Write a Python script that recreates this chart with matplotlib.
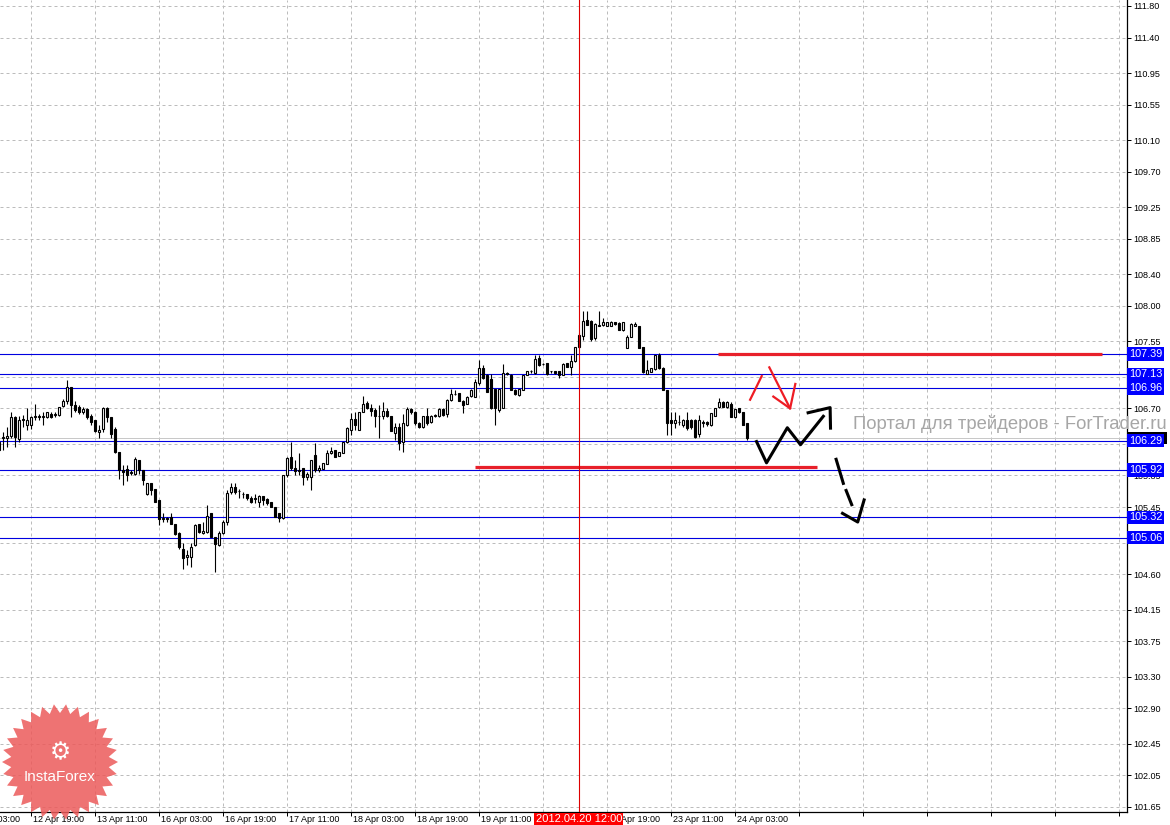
import numpy as np
import matplotlib.pyplot as plt
from matplotlib.patches import Polygon, Rectangle
from matplotlib.transforms import IdentityTransform, blended_transform_factory

plt.rcParams['font.family'] = ['Liberation Sans', 'DejaVu Sans']

# H1 candles, USDJPY-like (first bar is cut by the left edge)
opens = [106.28, 106.33, 106.32, 106.35, 106.59, 106.31, 106.57, 106.49, 106.49, 106.59,
         106.60, 106.59, 106.59, 106.63, 106.62, 106.62, 106.73, 106.79, 106.97, 106.74,
         106.72, 106.65, 106.69, 106.60, 106.55, 106.40, 106.44, 106.70, 106.59, 106.44,
         106.15, 105.92, 105.93, 105.88, 105.87, 106.04, 105.92, 105.61, 105.75, 105.68,
         105.54, 105.30, 105.31, 105.32, 105.24, 105.12, 104.92, 104.82, 104.82, 104.97,
         105.23, 105.12, 105.13, 105.37, 105.07, 104.97, 105.12, 105.26, 105.64, 105.71,
         105.65, 105.61, 105.61, 105.57, 105.55, 105.52, 105.59, 105.55, 105.51, 105.45,
         105.37, 105.31, 105.86, 106.09, 105.95, 105.92, 105.95, 105.83, 105.83, 106.11,
         105.92, 105.93, 106.00, 106.13, 106.17, 106.10, 106.14, 106.27, 106.43, 106.56,
         106.43, 106.66, 106.77, 106.70, 106.68, 106.60, 106.60, 106.67, 106.60, 106.39,
         106.46, 106.28, 106.49, 106.69, 106.66, 106.52, 106.46, 106.60, 106.53, 106.60,
         106.60, 106.69, 106.63, 106.81, 106.88, 106.89, 106.79, 106.76, 106.86, 106.85,
         107.02, 107.21, 107.12, 107.07, 106.95, 106.68, 106.70, 107.15, 107.12, 106.93,
         106.87, 106.93, 107.12, 107.17, 107.15, 107.34, 107.26, 107.27, 107.17, 107.17,
         107.17, 107.12, 107.27, 107.23, 107.30, 107.48, 107.62, 107.82, 107.81, 107.59,
         107.75, 107.76, 107.75, 107.75, 107.79, 107.78, 107.69, 107.47, 107.61, 107.75,
         107.74, 107.48, 107.14, 107.165, 107.20, 107.38, 107.21, 106.93, 106.55, 106.51,
         106.53, 106.49, 106.55, 106.55, 106.55, 106.38, 106.52, 106.53, 106.49, 106.61,
         106.72, 106.785, 106.72, 106.75, 106.595, 106.70, 106.65, 106.51]
highs = [106.30, 106.40, 106.47, 106.655, 106.61, 106.61, 106.62, 106.70, 106.61, 106.76,
         106.63, 106.655, 106.66, 106.65, 106.655, 106.72, 106.82, 107.06, 106.97, 106.80,
         106.74, 106.72, 106.70, 106.63, 106.55, 106.49, 106.72, 106.72, 106.59, 106.47,
         106.15, 105.98, 105.98, 105.92, 106.08, 106.04, 105.92, 105.76, 105.75, 105.68,
         105.54, 105.37, 105.32, 105.37, 105.24, 105.13, 104.99, 104.90, 104.99, 105.24,
         105.24, 105.26, 105.48, 105.37, 105.07, 105.15, 105.29, 105.67, 105.75, 105.75,
         105.68, 105.64, 105.61, 105.59, 105.61, 105.60, 105.59, 105.56, 105.51, 105.45,
         105.38, 105.86, 106.09, 106.28, 106.05, 106.14, 105.95, 105.90, 106.05, 106.26,
         105.98, 106.01, 106.17, 106.21, 106.17, 106.15, 106.28, 106.46, 106.64, 106.65,
         106.65, 106.86, 106.79, 106.76, 106.70, 106.74, 106.78, 106.70, 106.61, 106.51,
         106.51, 106.63, 106.72, 106.71, 106.67, 106.53, 106.61, 106.70, 106.62, 106.63,
         106.70, 106.70, 106.82, 106.95, 106.93, 106.90, 106.81, 106.86, 106.94, 107.07,
         107.31, 107.25, 107.14, 107.14, 106.95, 106.95, 107.26, 107.16, 107.14, 106.94,
         106.94, 107.12, 107.17, 107.19, 107.38, 107.38, 107.27, 107.27, 107.18, 107.17,
         107.17, 107.27, 107.28, 107.38, 107.48, 107.65, 107.93, 107.93, 107.82, 107.78,
         107.93, 107.85, 107.80, 107.81, 107.80, 107.79, 107.80, 107.63, 107.78, 107.79,
         107.75, 107.48, 107.31, 107.21, 107.38, 107.40, 107.22, 106.93, 106.66, 106.66,
         106.62, 106.57, 106.66, 106.57, 106.57, 106.62, 106.55, 106.54, 106.64, 106.70,
         106.83, 106.80, 106.79, 106.78, 106.69, 106.71, 106.65, 106.51]
lows = [106.16, 106.17, 106.21, 106.32, 106.21, 106.28, 106.47, 106.42, 106.44, 106.55,
        106.55, 106.49, 106.58, 106.58, 106.59, 106.61, 106.72, 106.76, 106.59, 106.66,
        106.63, 106.63, 106.57, 106.49, 106.40, 106.32, 106.40, 106.53, 106.32, 106.13,
        105.81, 105.73, 105.78, 105.85, 105.86, 105.87, 105.73, 105.60, 105.60, 105.51,
        105.22, 105.26, 105.26, 105.24, 105.10, 104.92, 104.66, 104.71, 104.69, 104.95,
        105.12, 105.11, 105.12, 105.07, 104.63, 104.96, 105.11, 105.22, 105.62, 105.62,
        105.56, 105.56, 105.54, 105.50, 105.50, 105.45, 105.48, 105.48, 105.45, 105.32,
        105.26, 105.30, 105.83, 105.92, 105.86, 105.86, 105.73, 105.79, 105.66, 105.90,
        105.90, 105.93, 105.99, 106.12, 106.08, 106.10, 106.13, 106.26, 106.36, 106.43,
        106.43, 106.65, 106.69, 106.60, 106.47, 106.32, 106.56, 106.59, 106.41, 106.30,
        106.17, 106.15, 106.48, 106.63, 106.49, 106.45, 106.45, 106.49, 106.52, 106.59,
        106.59, 106.61, 106.59, 106.79, 106.87, 106.79, 106.64, 106.75, 106.85, 106.84,
        107.00, 107.07, 106.91, 106.69, 106.49, 106.66, 106.70, 107.12, 106.93, 106.87,
        106.86, 106.93, 107.12, 107.15, 107.14, 107.24, 107.25, 107.12, 107.15, 107.14,
        107.08, 107.12, 107.23, 107.12, 107.29, 107.47, 107.57, 107.76, 107.55, 107.57,
        107.74, 107.74, 107.74, 107.74, 107.76, 107.69, 107.68, 107.46, 107.60, 107.74,
        107.47, 107.15, 107.14, 107.16, 107.19, 107.20, 106.93, 106.36, 106.36, 106.45,
        106.49, 106.47, 106.43, 106.44, 106.32, 106.34, 106.47, 106.48, 106.48, 106.60,
        106.70, 106.72, 106.71, 106.59, 106.58, 106.64, 106.49, 106.30]
closes = [106.17, 106.34, 106.35, 106.59, 106.34, 106.55, 106.55, 106.55, 106.59, 106.60,
          106.59, 106.60, 106.65, 106.59, 106.63, 106.72, 106.79, 106.97, 106.74, 106.685,
          106.65, 106.69, 106.59, 106.53, 106.41, 106.43, 106.71, 106.59, 106.38, 106.15,
          105.92, 105.89, 105.85, 105.89, 106.06, 105.92, 105.79, 105.76, 105.66, 105.51,
          105.30, 105.31, 105.30, 105.24, 105.11, 104.94, 104.80, 104.84, 104.94, 105.22,
          105.13, 105.14, 105.34, 105.07, 104.98, 105.12, 105.26, 105.63, 105.70, 105.64,
          105.65, 105.62, 105.56, 105.51, 105.57, 105.59, 105.54, 105.50, 105.45, 105.33,
          105.31, 105.86, 106.07, 105.94, 105.91, 105.91, 105.83, 105.87, 106.05, 105.92,
          105.95, 106.01, 106.13, 106.16, 106.08, 106.15, 106.28, 106.45, 106.56, 106.49,
          106.65, 106.76, 106.70, 106.67, 106.60, 106.60, 106.67, 106.60, 106.41, 106.46,
          106.26, 106.51, 106.69, 106.65, 106.52, 106.46, 106.60, 106.52, 106.60, 106.62,
          106.69, 106.62, 106.81, 106.88, 106.88, 106.79, 106.74, 106.85, 106.93, 107.04,
          107.21, 107.08, 106.91, 106.70, 106.70, 106.95, 107.15, 107.13, 106.93, 106.88,
          106.94, 107.12, 107.17, 107.17, 107.32, 107.25, 107.26, 107.14, 107.17, 107.15,
          107.12, 107.26, 107.23, 107.30, 107.48, 107.63, 107.81, 107.76, 107.58, 107.77,
          107.76, 107.80, 107.79, 107.80, 107.765, 107.69, 107.79, 107.61, 107.765, 107.765,
          107.47, 107.165, 107.19, 107.21, 107.38, 107.21, 106.93, 106.51, 106.51, 106.55,
          106.53, 106.55, 106.45, 106.46, 106.34, 106.55, 106.52, 106.50, 106.64, 106.70,
          106.785, 106.72, 106.785, 106.59, 106.69, 106.65, 106.49, 106.32]

# horizontal levels (blue) with their price tags
blue_levels = [107.39, 107.13, 106.96, 106.29, 105.92, 105.32, 105.06]
blue_tags = ['107.39', '107.13', '106.96', '106.29', '105.92', '105.32', '105.06']
bid_price = 106.32

# red drawn levels: price, start bar, end bar
red_levels = [(107.39, 178.7, 274.7), (105.96, 117.9, 203.4)]

# hand-drawn forecast strokes (bar, price)
red_strokes = [([186.7, 189.6], [106.81, 107.11]),
               ([191.5, 196.7], [107.22, 106.70]),
               ([192.5, 196.7, 198.0], [106.85, 106.70, 107.01])]
black_strokes = [([188.3, 190.8, 196.0, 199.3, 205.0], [106.28, 106.01, 106.455, 106.24, 106.60]),
                 ([201.2, 206.7, 206.8], [106.645, 106.71, 106.45]),
                 ([208.2, 210.0], [106.055, 105.75]),
                 ([210.7, 212.1], [105.66, 105.48]),
                 ([209.8, 213.6, 215.2], [105.37, 105.26, 105.54])]

price_ticks = [111.80, 111.40, 110.95, 110.55, 110.10, 109.70, 109.25, 108.85, 108.40,
               108.00, 107.55, 107.10, 106.70, 106.25, 105.85, 105.45, 105.00, 104.60,
               104.15, 103.75, 103.30, 102.90, 102.45, 102.05, 101.65]
# labels that sit fully under a level tag are not visible on the chart
hidden_ticks = [107.10, 106.25, 105.00]
time_ticks = [-9, 7, 23, 39, 55, 71, 87, 103, 119, 135, 151, 167, 183,
              199, 215, 231, 247, 263, 279]
time_labels = ['12 Apr 03:00', '12 Apr 19:00', '13 Apr 11:00', '16 Apr 03:00', '16 Apr 19:00',
               '17 Apr 11:00', '18 Apr 03:00', '18 Apr 19:00', '19 Apr 11:00', '20 Apr 03:00',
               '20 Apr 19:00', '23 Apr 11:00', '24 Apr 03:00']
cursor_bar = 143.9
cursor_label = '2012.04.20 12:00'

bars = np.arange(-1, len(opens) - 1)

fig = plt.figure(figsize=(11.7, 8.25), dpi=100)
ax = fig.add_axes([0, 13 / 825, 1127 / 1170, 812 / 825])

for s in ['left', 'top']:
    ax.spines[s].set_visible(False)
for s in ['right', 'bottom']:
    ax.spines[s].set_linewidth(0.9)

ax.yaxis.tick_right()
ax.set_yticks(price_ticks)
ax.set_yticklabels(['' if p in hidden_ticks else '%.2f' % p for p in price_ticks])
ax.tick_params(axis='y', direction='out', length=3, width=0.72, pad=1.5, labelsize=6.5)
ax.set_xticks(time_ticks)
ax.set_xticklabels([])
ax.tick_params(axis='x', direction='out', length=3, width=0.72)
ax.grid(True, color='#bcbcbc', linestyle=(0, (3, 3)), linewidth=0.72, zorder=0)
ax.set_axisbelow(True)

# limits after the ticks, otherwise set_xticks widens the view
ax.set_xlim(-0.83, 280.92)
ax.set_ylim(101.585, 111.876)

for k, lab in zip(time_ticks, time_labels):
    if lab == '20 Apr 03:00':
        continue
    ax.annotate(lab, xy=(k, 0), xycoords=('data', 'axes fraction'), xytext=(2, -7),
                textcoords='offset pixels', ha='left', va='center', fontsize=6.5,
                annotation_clip=False)

# bid line and levels
ax.axhline(bid_price, color='#c8c8c8', lw=0.72, zorder=1)
for lv in blue_levels:
    ax.axhline(lv, color='#0000e0', lw=0.8, zorder=1)

# candles
o = np.array(opens)
h = np.array(highs)
l = np.array(lows)
c = np.array(closes)
ax.vlines(bars, l, h, color='black', lw=0.8, zorder=3)
body_lo = np.minimum(o, c)
body_h = np.maximum(np.abs(c - o), 0.004)
colors = np.where(c < o, 'black', 'white')
ax.bar(bars, body_h, bottom=body_lo, width=0.5, color=colors, edgecolor='black',
       linewidth=0.8, zorder=4)

# red levels and forecast drawing
for p, x0, x1 in red_levels:
    ax.plot([x0, x1], [p, p], color='#e8202a', lw=2.3, solid_capstyle='butt', zorder=5)
for xs, ys in red_strokes:
    ax.plot(xs, ys, color='#ee1c24', lw=1.6, zorder=6)
for xs, ys in black_strokes:
    ax.plot(xs, ys, color='black', lw=2.2, zorder=6)

# crosshair
ax.axvline(cursor_bar, color='#dd0000', lw=0.8, zorder=7)
ax.annotate(cursor_label, xy=(cursor_bar, 0), xycoords=('data', 'axes fraction'),
            xytext=(0, -7), textcoords='offset pixels', ha='center', va='center',
            fontsize=8, color='white', annotation_clip=False,
            bbox=dict(boxstyle='square,pad=0.12', fc='#ff0000', ec='none'))

# price tags on the right: bid tag mostly hidden behind the 106.29 tag
trans = blended_transform_factory(ax.transAxes, ax.transData)
ax.add_patch(Rectangle((1.0008, bid_price - 0.075), 0.0345, 0.15, transform=trans,
                       fc='black', ec='none', clip_on=False, zorder=8))
for lv, tag in zip(blue_levels, blue_tags):
    ax.annotate(tag, xy=(1, lv), xycoords=('axes fraction', 'data'), xytext=(2, 0),
                textcoords='offset pixels', ha='left', va='center', fontsize=7.8,
                color='white', annotation_clip=False, zorder=9,
                bbox=dict(boxstyle='square,pad=0.15', fc='#0000ff', ec='none'))

# watermark
fig.text(853 / 1170, 1 - 424 / 825, 'Портал для трейдеров - ForTrader.ru', fontsize=13.3,
         color='#a6a6a6', ha='left', va='center', zorder=12)

# InstaForex badge
ang = np.linspace(0, 2 * np.pi, 61)[:-1]
rad = np.where(np.arange(60) % 2 == 0, 58, 49)
pts = np.column_stack([60 + rad * np.cos(ang), 63 + rad * np.sin(ang)])
fig.add_artist(Polygon(pts, closed=True, transform=IdentityTransform(),
                       fc='#ec5a5a', ec='none', alpha=0.85, zorder=10))
fig.text(60 / 1170, 1 - 752 / 825, '⚙', fontsize=17, color='white', ha='center',
         va='center', family='DejaVu Sans', zorder=11)
fig.text(60 / 1170, 1 - 777 / 825, 'InstaForex', fontsize=11, color='white', ha='center',
         va='center', zorder=11)

fig.savefig('out.png', dpi=100, facecolor='white')
